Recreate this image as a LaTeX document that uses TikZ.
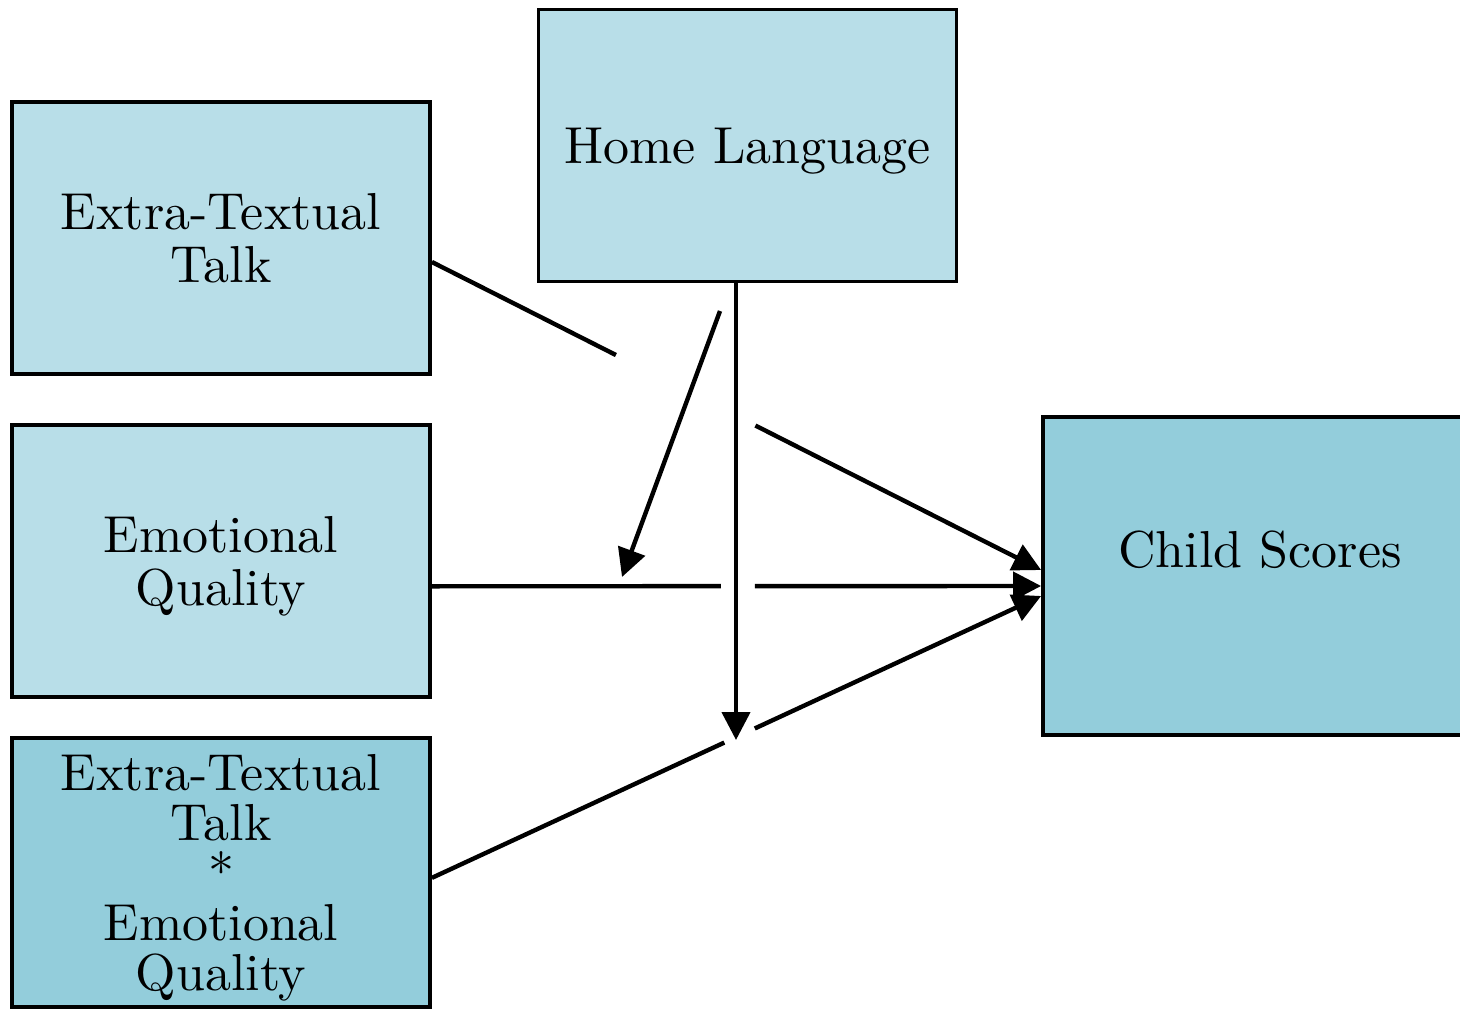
\documentclass[tikz,border=0pt]{standalone}
\usepackage{fontspec}
\setmainfont{lmroman10-regular.otf}
\usepackage{tikz}
\usetikzlibrary{arrows.meta,positioning}
\definecolor{paleblue}{HTML}{B8DEE8}
\definecolor{midblue}{HTML}{93CDDB}

\begin{document}
\begin{tikzpicture}[
  x=0.5pt,y=-0.5pt,
  box/.style={draw=black,line width=1.9pt,fill=paleblue,align=center,minimum width=209pt,minimum height=136pt,inner sep=2pt,text depth=0pt,font=\fontsize{26}{26.5}\selectfont},
  combo/.style={box,fill=midblue,minimum height=134.75pt,font=\fontsize{26}{25}\selectfont},
  outcome/.style={box,fill=midblue,minimum width=217pt,minimum height=159.25pt},
  link/.style={line width=2.2pt,draw=black},
  arr/.style={link,-{Triangle[length=14pt,width=14pt]}}
]
\useasboundingbox (0,0) rectangle (1460,1010);
\node[box] (talk) at (221,238) {Extra-Textual\\Talk};
\node[box,below=23.5pt of talk] (emo) {Emotional\\Quality};
\node[combo,below=18.5pt of emo] (inter) {Extra-Textual\\Talk\\*\\Emotional\\Quality};
\node[box] (home) at (747.5,145.5) {Home Language};
\node[outcome] (child) at (1260,576) {Child Scores\\~};
\coordinate (hlfoot) at (736,740);
\coordinate (hlstart) at (720,311);
\coordinate (hltip) at (622,577);
% paths to the outcome, broken where the moderator crosses
\path ([yshift=-12pt]talk.east) -- coordinate[pos=.302] (tk1) coordinate[pos=.531] (tk2) ([yshift=3pt]child.west);
\path ([yshift=-12.75pt]emo.east) -- coordinate[pos=.4745] (em1) coordinate[pos=.53] (em2) ([yshift=-5pt]child.west);
\path ([yshift=-2.75pt]inter.east) -- coordinate[pos=.48] (in1) coordinate[pos=.53] (in2) ([yshift=-10pt]child.west);
\draw[link] ([yshift=-12pt]talk.east) -- (tk1);
\draw[arr] (tk2) -- ([yshift=3pt]child.west);
\draw[link] ([yshift=-12.75pt]emo.east) -- (em1);
\draw[arr] (em2) -- ([yshift=-5pt]child.west);
\draw[link] ([yshift=-2.75pt]inter.east) -- (in1);
\draw[arr] (in2) -- ([yshift=-10pt]child.west);
% moderator arrows
\draw[arr] (home.south -| hlfoot) -- (hlfoot);
\draw[arr] (hlstart) -- (hltip);
\end{tikzpicture}
\end{document}
